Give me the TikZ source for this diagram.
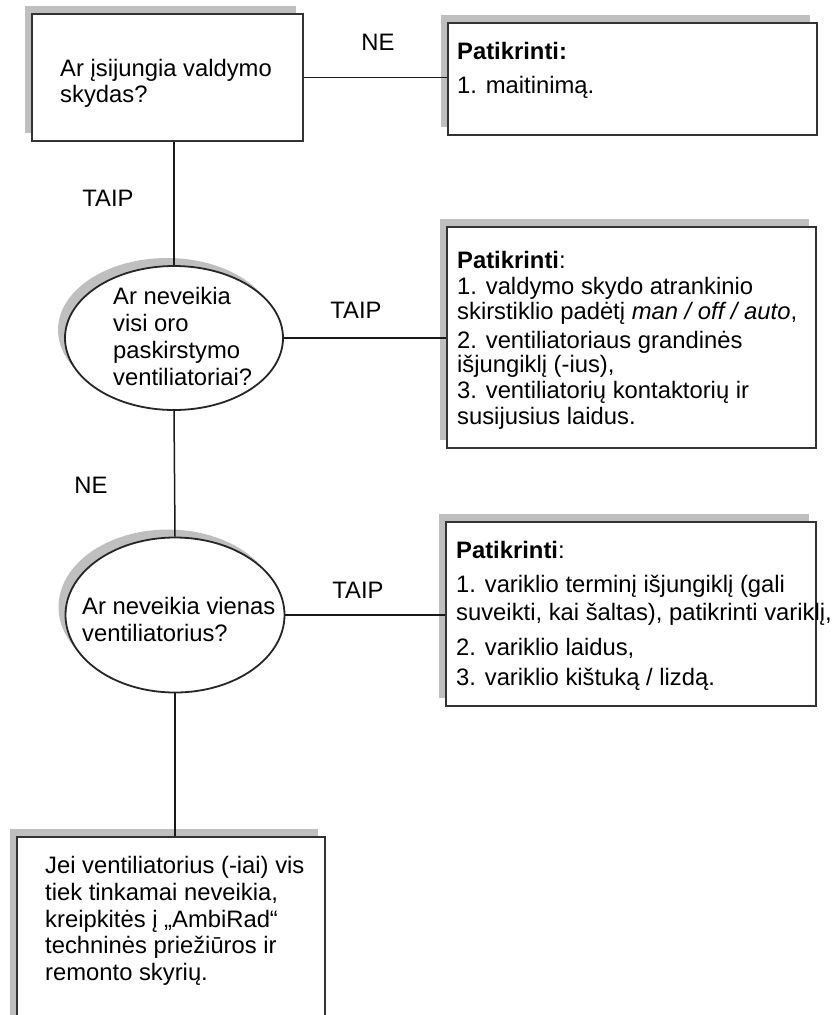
\documentclass[tikz,border=0pt]{standalone}
\usepackage{fontspec}
\setmainfont{Liberation Sans}
\usetikzlibrary{shapes.geometric,shadows}
\begin{document}
\begin{tikzpicture}[x=1pt,y=-1pt,
  shd/.style={general shadow={fill=black!25, shadow xshift=-7pt, shadow yshift=8pt}},
  rbox/.style={rectangle, draw=black!80, line width=2pt, fill=white, inner sep=0pt, shd},
  ell/.style={ellipse, draw=black!85, line width=1.8pt, fill=white, inner sep=0pt, shd},
  ln/.style={anchor=base west, inner sep=0pt, font=\fontsize{23.8}{26}\selectfont},
  lbl/.style={inner sep=0pt, font=\fontsize{23.8}{26}\selectfont},
  conn/.style={draw=black!90, line width=1.5pt}]
\useasboundingbox (0,0) rectangle (838,1015);
\clip (0,0) rectangle (838,1015);
% boxes and ellipses
\node[rbox, minimum width=271pt, minimum height=127pt] (b1) at (167.5,77.5) {};
\node[rbox, minimum width=369pt, minimum height=112pt] (b2) at (632.5,79) {};
\node[rbox, minimum width=369pt, minimum height=221pt] (b3) at (631.5,337.5) {};
\node[rbox, minimum width=370pt, minimum height=184pt] (b4) at (631,614) {};
\node[rbox, minimum width=308pt, minimum height=208pt] (b5) at (171,941) {};
\node[ell, minimum width=218pt, minimum height=144pt] (e1) at (174,338) {};
\node[ell, minimum width=219pt, minimum height=155pt] (e2) at (175,615) {};
% connectors
\draw[conn] (b1.east) -- (b1.east -| b2.west);
\draw[conn] (e1.north |- b1.south) -- (e1.north);
\draw[conn] (e1.east) -- (e1.east -| b3.west);
\draw[conn] (e1.south) -- (e2.north);
\draw[conn] (e2.east) -- (e2.east -| b4.west);
\draw[conn] (e2.south) -- (e2.south |- b5.north);
% connector labels
\node[lbl] (l1) at (378,42) {NE};
\node[lbl] (l2) at (108,198) {TAIP};
\node[lbl] (l3) at (356,310) {TAIP};
\node[lbl] (l4) at (91,485) {NE};
\node[lbl] (l5) at (358,590) {TAIP};
% box 1
\node[ln] (t11) at (60,76) {Ar įsijungia valdymo};
\node[ln] (t12) at (60,102) {skydas?};
% box 2
\node[ln] (t21) at (457,59) {\textbf{Patikrinti:}};
\node[ln] (t22) at (457,93) {1. maitinimą.};
% box 3
\node[ln] (t31) at (457,268) {\textbf{Patikrinti}:};
\node[ln] (t32) at (457,294) {1. valdymo skydo atrankinio};
\node[ln] (t33) at (457,319) {skirstiklio padėtį \textit{man / off / auto},};
\node[ln] (t34) at (457,348) {2. ventiliatoriaus grandinės};
\node[ln] (t35) at (457,372) {išjungiklį (-ius),};
\node[ln] (t36) at (457,398) {3. ventiliatorių kontaktorių ir};
\node[ln] (t37) at (457,424) {susijusius laidus.};
% box 4
\node[ln] (t41) at (456,558) {\textbf{Patikrinti}:};
\node[ln] (t42) at (456,592) {1. variklio terminį išjungiklį (gali};
\node[ln] (t43) at (456,620) {suveikti, kai šaltas), patikrinti variklį,};
\node[ln] (t44) at (456,655) {2. variklio laidus,};
\node[ln] (t45) at (456,685) {3. variklio kištuką / lizdą.};
% box 5
\node[ln] (t51) at (45,873) {Jei ventiliatorius (-iai) vis};
\node[ln] (t52) at (45,900) {tiek tinkamai neveikia,};
\node[ln] (t53) at (45,927) {kreipkitės į „AmbiRad“};
\node[ln] (t54) at (45,953) {techninės priežiūros ir};
\node[ln] (t55) at (45,980) {remonto skyrių.};
% ellipse 1
\node[ln] (t61) at (113,304) {Ar neveikia};
\node[ln] (t62) at (113,331) {visi oro};
\node[ln] (t63) at (113,358) {paskirstymo};
\node[ln] (t64) at (113,385) {ventiliatoriai?};
% ellipse 2
\node[ln] (t71) at (82,614) {Ar neveikia vienas};
\node[ln] (t72) at (82,641) {ventiliatorius?};
\end{tikzpicture}
\end{document}
